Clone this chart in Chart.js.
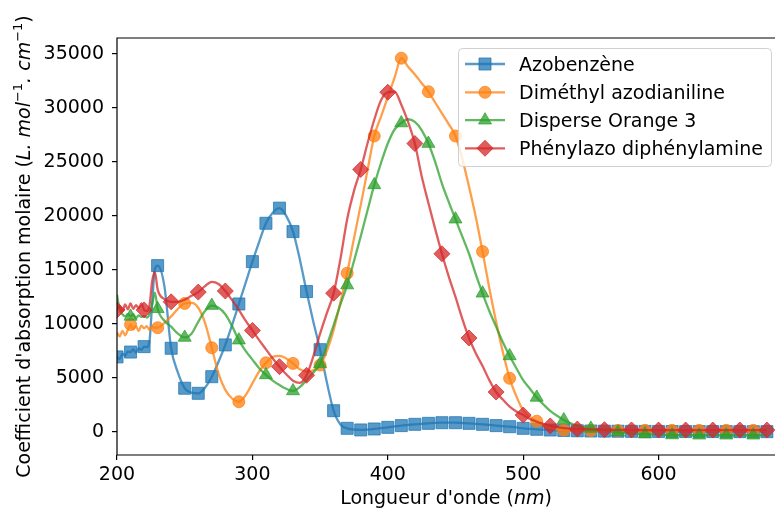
<!DOCTYPE html>
<html>
<head>
<meta charset="utf-8">
<script src="https://cdn.jsdelivr.net/npm/chart.js@4"></script>
<style>
  html, body { margin: 0; padding: 0; background: #fff; }
</style>
</head>
<body>
<canvas id="chart" width="775" height="512"></canvas>
<script>
// Spectres d'absorption
const wavelengths = [
  200, 202, 204, 206, 208, 210, 212, 214, 216, 218, 220, 222, 224, 226, 228,
  230, 235, 240, 245, 250, 255, 260, 265, 270, 275, 280, 285, 290, 295, 300,
  305, 310, 315, 320, 325, 330, 335, 340, 345, 350, 355, 360, 365, 370, 375,
  380, 385, 390, 395, 400, 405, 410, 415, 420, 425, 430, 435, 440, 445, 450,
  455, 460, 465, 470, 475, 480, 485, 490, 495, 500, 505, 510, 515, 520, 525,
  530, 535, 540, 545, 550, 555, 560, 570, 580, 590, 600, 610, 620, 630, 640,
  650, 660, 670, 680
];

const azobenzene = [
  6950, 6750, 7250, 7050, 7450, 7400, 7650, 7350, 7750, 7600, 7900, 7850, 8400, 12000, 15100,
  15400, 13500, 7750, 5500, 4050, 3650, 3580, 4100, 5120, 6500, 8060, 9900, 11850, 13800, 15770,
  17600, 19320, 20300, 20720, 20000, 18550, 16000, 13000, 10200, 7620, 4600, 1970, 700, 340, 230,
  190, 220, 280, 350, 430, 510, 590, 650, 710, 760, 800, 840, 860, 870, 860,
  830, 800, 760, 710, 650, 590, 540, 490, 420, 340, 290, 250, 210, 185, 160,
  140, 125, 110, 100, 90, 85, 80, 70, 60, 55, 50, 45, 40, 40, 35,
  35, 30, 30, 30
];

const dimethylAzodianiline = [
  9200, 8850, 9350, 8950, 9450, 9950, 9500, 9800, 9350, 9850, 9600, 9800, 9450, 9750, 9650,
  9650, 10100, 10700, 11400, 11900, 11950, 11500, 10100, 7800, 5400, 3900, 3100, 2800, 3400, 4500,
  5600, 6400, 6950, 7050, 6800, 6350, 5800, 5600, 5700, 6200, 7500, 9450, 12000, 14700, 17900,
  21000, 24200, 27400, 29200, 31000, 32800, 34600, 33800, 33100, 32300, 31500, 30500, 29500, 28500, 27400,
  25300, 22700, 19900, 16700, 13300, 10200, 7400, 4970, 3300, 2000, 1400, 1000, 650, 400, 250,
  180, 150, 140, 140, 140, 140, 140, 140, 145, 150, 150, 150, 150, 150, 150,
  150, 150, 150, 150
];

const disperseOrange3 = [
  12700, 11300, 10900, 10700, 10900, 10700, 10900, 10550, 10800, 10650, 10750, 10600, 10900, 11800, 12900,
  11400, 10300, 9750, 9100, 8750, 9100, 10200, 11200, 11700, 11500, 10900, 9800, 8500, 7500, 6700,
  5900, 5280, 4750, 4350, 4000, 3800, 4150, 4800, 5500, 6300, 8000, 9900, 11800, 13600, 15800,
  18100, 20500, 22870, 24900, 26700, 28000, 28600, 28950, 28700, 27950, 26700, 25000, 23000, 21300, 19700,
  18100, 16500, 14600, 12840, 11200, 9750, 8300, 7040, 5900, 4800, 4000, 3200, 2550, 1950, 1500,
  1110, 800, 560, 420, 330, 230, 130, -20, -120, -200, -250, -280, -300, -300, -300,
  -300, -300, -300, -300
];

const phenylazoDiphenylamine = [
  11300, 11650, 11150, 11800, 11350, 11900, 11400, 11750, 11450, 11900, 11300, 11200, 11700, 14000, 14800,
  13200, 12300, 12050, 12050, 12250, 12600, 12950, 13500, 13900, 13700, 13050, 12200, 11300, 10300, 9400,
  8500, 7650, 6800, 6050, 5350, 4750, 4550, 5250, 7000, 9100, 11000, 12850, 16000, 19700, 22300,
  24300, 26700, 28900, 30700, 31450, 31500, 30300, 28700, 26700, 23700, 21200, 18800, 16500, 14400, 12500,
  10500, 8700, 7300, 6100, 4800, 3700, 3000, 2350, 1900, 1570, 1200, 950, 750, 560, 450,
  360, 300, 270, 250, 230, 220, 210, 200, 190, 180, 180, 180, 180, 180, 180,
  180, 180, 180, 180
];

const seriesNames = ['Azobenzène', 'Diméthyl azodianiline', 'Disperse Orange 3', 'Phénylazo diphénylamine'];
const seriesValues = [azobenzene, dimethylAzodianiline, disperseOrange3, phenylazoDiphenylamine];
const xTicks = [200, 300, 400, 500, 600];
const yTicks = [0, 5000, 10000, 15000, 20000, 25000, 30000, 35000];

// styles façon matplotlib (tab10, alpha 0.75)
const styles = [
  { rgb: '31,119,180', point: 'rect', radius: 8.5, every: 10, offset: 0 },
  { rgb: '255,127,14', point: 'circle', radius: 6, every: 20, offset: 10 },
  { rgb: '44,160,44', point: 'triangle', radius: 7.5, every: 20, offset: 10 },
  { rgb: '214,39,40', point: 'rectRot', radius: 8, every: 20, offset: 0 }
];
const ALPHA = 0.75;
const LINE_W = 2.3;
const FONT = '"DejaVu Sans", "Liberation Sans", sans-serif';

const datasets = seriesValues.map((values, i) => {
  const s = styles[i];
  const col = `rgba(${s.rgb},${ALPHA})`;
  const markerRadius = ctx => ((wavelengths[ctx.dataIndex] - s.offset) % s.every === 0 ? s.radius : 0);
  return {
    label: seriesNames[i],
    data: wavelengths.map((x, j) => ({ x: x, y: values[j] })),
    borderColor: col,
    backgroundColor: col,
    borderWidth: LINE_W,
    cubicInterpolationMode: 'monotone',
    pointStyle: s.point,
    pointBackgroundColor: col,
    pointBorderColor: col,
    pointBorderWidth: 1,
    pointRadius: markerRadius,
    pointHoverRadius: markerRadius,
    order: 3 - i
  };
});

function drawMarker(ctx, style, x, y) {
  const r = style.radius;
  ctx.beginPath();
  if (style.point === 'rect') {
    const h = Math.SQRT1_2 * r;
    ctx.rect(x - h, y - h, 2 * h, 2 * h);
  } else if (style.point === 'circle') {
    ctx.arc(x, y, r, 0, Math.PI * 2);
  } else if (style.point === 'triangle') {
    ctx.moveTo(x, y - r);
    ctx.lineTo(x + Math.sin(2 * Math.PI / 3) * r, y + r / 2);
    ctx.lineTo(x - Math.sin(2 * Math.PI / 3) * r, y + r / 2);
  } else {
    ctx.moveTo(x, y - r);
    ctx.lineTo(x + r, y);
    ctx.lineTo(x, y + r);
    ctx.lineTo(x - r, y);
  }
  ctx.closePath();
  ctx.fill();
  ctx.stroke();
}

// texte avec parties italiques et exposants
function drawRuns(ctx, runs, cx, baseline) {
  let total = 0;
  runs.forEach(r => { ctx.font = r.font; r.w = ctx.measureText(r.text).width; total += r.w; });
  let x = cx - total / 2;
  ctx.textAlign = 'left';
  ctx.textBaseline = 'alphabetic';
  runs.forEach(r => {
    ctx.font = r.font;
    ctx.fillText(r.text, x, baseline - (r.rise || 0));
    x += r.w;
  });
}

const decorations = {
  id: 'decorations',
  afterDraw(chart) {
    const { ctx, chartArea: a } = chart;
    ctx.save();

    // cadre des axes (le bord droit tombe hors de l'image)
    ctx.strokeStyle = '#000';
    ctx.lineWidth = 1.2;
    ctx.beginPath();
    ctx.moveTo(a.right, a.top);
    ctx.lineTo(a.left, a.top);
    ctx.lineTo(a.left, a.bottom);
    ctx.lineTo(a.right, a.bottom);
    ctx.stroke();

    ctx.fillStyle = '#000';
    const normal = `19px ${FONT}`;
    const italic = `italic 19px ${FONT}`;
    const sup = `13px ${FONT}`;

    // titre axe x
    drawRuns(ctx, [
      { text: "Longueur d'onde (", font: normal },
      { text: 'nm', font: italic },
      { text: ')', font: normal }
    ], (a.left + a.right) / 2, 504);

    // titre axe y
    ctx.save();
    ctx.translate(30, (a.top + a.bottom) / 2);
    ctx.rotate(-Math.PI / 2);
    drawRuns(ctx, [
      { text: "Coefficient d'absorption molaire (", font: normal },
      { text: 'L. mol', font: italic },
      { text: '\u22121', font: sup, rise: 8 },
      { text: '. cm', font: italic },
      { text: '\u22121', font: sup, rise: 8 },
      { text: ')', font: normal }
    ], 0, 0);
    ctx.restore();

    // légende
    const box = { x: 458.5, y: 48.5, w: 313, h: 118 };
    ctx.beginPath();
    ctx.roundRect(box.x, box.y, box.w, box.h, 4);
    ctx.fillStyle = 'rgba(255,255,255,0.8)';
    ctx.fill();
    ctx.strokeStyle = 'rgba(204,204,204,0.9)';
    ctx.lineWidth = 1;
    ctx.stroke();

    const rows = [64, 92.3, 120.2, 148.3];
    seriesNames.forEach((name, i) => {
      const s = styles[i];
      const col = `rgba(${s.rgb},${ALPHA})`;
      const y = rows[i];
      ctx.strokeStyle = col;
      ctx.fillStyle = col;
      ctx.lineWidth = LINE_W;
      ctx.beginPath();
      ctx.moveTo(465, y);
      ctx.lineTo(505, y);
      ctx.stroke();
      ctx.lineWidth = 1;
      drawMarker(ctx, s, 485, y);
      ctx.fillStyle = '#000';
      ctx.font = normal;
      ctx.textAlign = 'left';
      ctx.textBaseline = 'alphabetic';
      ctx.fillText(name, 519, y + 7);
    });

    ctx.restore();
  }
};

new Chart(document.getElementById('chart'), {
  type: 'line',
  data: { datasets: datasets },
  options: {
    responsive: false,
    devicePixelRatio: 1,
    animation: false,
    events: [],
    layout: { autoPadding: false, padding: { left: 0, top: 38, right: 0, bottom: 0 } },
    plugins: {
      legend: { display: false },
      tooltip: { enabled: false }
    },
    scales: {
      x: {
        type: 'linear',
        min: 200,
        max: 686,
        afterBuildTicks: scale => { scale.ticks = xTicks.map(v => ({ value: v })); },
        afterFit: scale => { scale.height = 57; scale.paddingLeft = 0; scale.paddingRight = 0; },
        border: { display: false },
        grid: { drawOnChartArea: false, drawTicks: true, tickLength: 5, color: '#000', lineWidth: 1.2 },
        ticks: { color: '#000', font: { family: FONT, size: 19 }, padding: 4, maxRotation: 0, autoSkip: false,
                 callback: v => String(v) }
      },
      y: {
        type: 'linear',
        min: -2130,
        max: 36470,
        afterBuildTicks: scale => { scale.ticks = yTicks.map(v => ({ value: v })); },
        afterFit: scale => { scale.width = 117; scale.paddingTop = 0; scale.paddingBottom = 0; },
        border: { display: false },
        grid: { drawOnChartArea: false, drawTicks: true, tickLength: 5, color: '#000', lineWidth: 1.2 },
        ticks: { color: '#000', font: { family: FONT, size: 19 }, padding: 8, autoSkip: false,
                 callback: v => String(v) }
      }
    }
  },
  plugins: [decorations]
});
</script>
</body>
</html>
